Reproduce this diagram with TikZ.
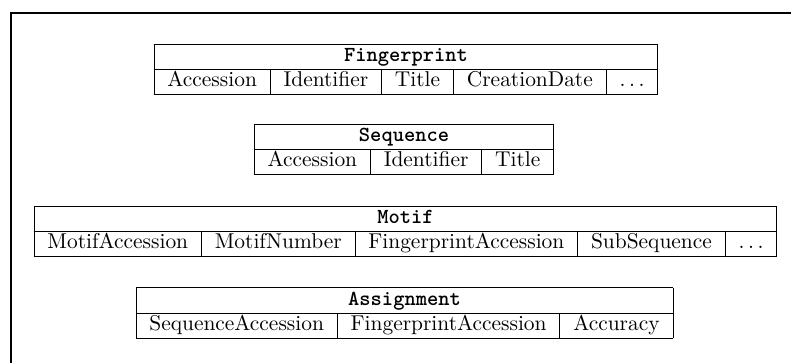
\documentclass[tikz,border=0pt]{standalone}
\usepackage{array}
\begin{document}
\begin{tikzpicture}[x=0.4666pt,y=-0.4666pt,
  relation/.style={inner sep=0pt,anchor=center,font=\normalsize},
  frameline/.style={line width=1.1pt}]
\useasboundingbox (0,0) rectangle (791,362);
\clip (0,0) rectangle (791,362);
\renewcommand\arraystretch{0.94}
\setlength\arrayrulewidth{0.45pt}
\newcommand\relhead[2]{\multicolumn{#1}{|c|}{\ttfamily\bfseries #2}}
\newcommand\moreattr{$\ldots$}
% outer frame
\draw[frameline] (11,13) rectangle (820,400);
% relation schemas
\node[relation] (fingerprint) at (406,69.5) {%
  \begin{tabular}{|c|c|c|c|c|}\hline
  \relhead{5}{Fingerprint}\\\hline
  Accession & Identifier & Title & CreationDate & \moreattr\\\hline
  \end{tabular}};
\node[relation] (sequence) at (404,149.5) {%
  \begin{tabular}{|c|c|c|}\hline
  \relhead{3}{Sequence}\\\hline
  Accession & Identifier & Title\\\hline
  \end{tabular}};
\node[relation] (motif) at (405.5,231.5) {%
  \begin{tabular}{|c|c|c|c|c|}\hline
  \relhead{5}{Motif}\\\hline
  MotifAccession & MotifNumber & FingerprintAccession & SubSequence & \moreattr\\\hline
  \end{tabular}};
\node[relation] (assignment) at (404.5,313) {%
  \begin{tabular}{|c|c|c|}\hline
  \relhead{3}{Assignment}\\\hline
  SequenceAccession & FingerprintAccession & Accuracy\\\hline
  \end{tabular}};
\end{tikzpicture}
\end{document}
